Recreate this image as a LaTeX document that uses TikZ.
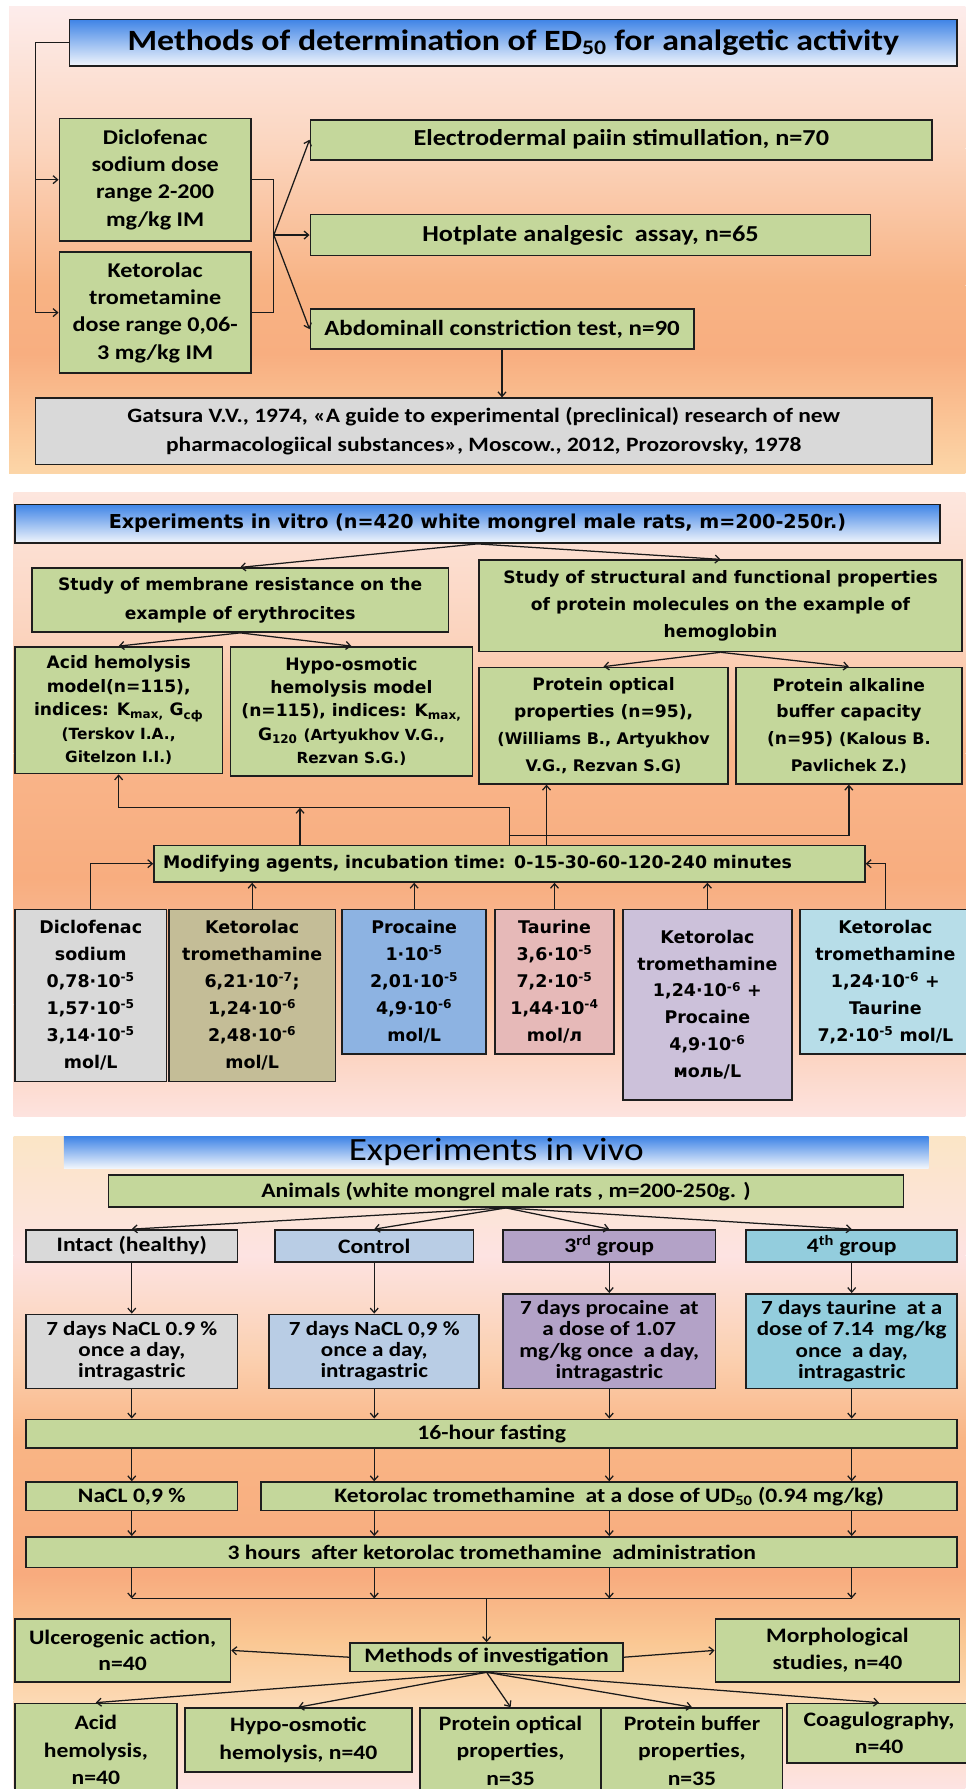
\documentclass[tikz,border=0pt]{standalone}
\usepackage{fontspec}
\usetikzlibrary{arrows.meta}
\newfontfamily\cbf[FakeStretch=1.15]{Carlito}
\newfontfamily\cbr[FakeStretch=1.15]{Carlito}
\newfontfamily\dvs{DejaVu Sans}
\newcommand\fA[2]{\cbf\bfseries\fontsize{#1}{#2}\selectfont}
\newcommand\fB[2]{\dvs\bfseries\fontsize{#1}{#2}\selectfont}
\newcommand\smref[2]{{\fontsize{#1}{#1}\selectfont #2}}
\definecolor{gfill}{HTML}{C4D79B}
\definecolor{grayfill}{HTML}{D9D9D9}
\definecolor{tanfill}{HTML}{C4BD97}
\definecolor{bluefill}{HTML}{8DB3E2}
\definecolor{pinkfill}{HTML}{E6B9B8}
\definecolor{lavfill}{HTML}{CCC1DA}
\definecolor{ltbluefill}{HTML}{B7DDE8}
\definecolor{ctrlfill}{HTML}{B9CDE5}
\definecolor{thirdfill}{HTML}{B3A2C7}
\definecolor{fourthfill}{HTML}{93CDDD}
\definecolor{bord}{HTML}{1E1E1E}
\definecolor{lin}{HTML}{1A1A1A}
\definecolor{tbA}{HTML}{3F84E6}
\definecolor{tbB}{HTML}{9CC2F2}
\definecolor{tbC}{HTML}{F2F6FC}
\definecolor{pa}{HTML}{FDECEB}
\definecolor{pb}{HTML}{FBD5BE}
\definecolor{pc}{HTML}{F8B384}
\definecolor{pd}{HTML}{F8AE80}
\definecolor{pe}{HTML}{FCD6A8}
\definecolor{qa}{HTML}{FDE6DE}
\definecolor{qb}{HTML}{FBD3BD}
\definecolor{qc}{HTML}{F9B58A}
\definecolor{qd}{HTML}{F8AD7F}
\definecolor{qe}{HTML}{FBC8AA}
\definecolor{qf}{HTML}{FDE3DF}
\definecolor{ra}{HTML}{FBE5C6}
\definecolor{rb}{HTML}{FDE3E2}
\definecolor{rc}{HTML}{FBD0B0}
\definecolor{rd}{HTML}{F9B585}
\definecolor{re}{HTML}{F8AB7E}
\definecolor{rf}{HTML}{FAC894}
\definecolor{rg}{HTML}{FCD9B4}
\definecolor{rh}{HTML}{FDE3E3}
\newcommand\placebox[7]{%
  \pgfmathsetmacro\pbw{#5-#3}%
  \pgfmathsetmacro\pbh{#6-#4}%
  \pgfmathsetmacro\pbx{(#3+#5)/2}%
  \pgfmathsetmacro\pby{(#4+#6)/2}%
  \node[#2, minimum width=\pbw pt, minimum height=\pbh pt] (#1) at (\pbx,\pby) {#7};%
}
\tikzset{
  box/.style={draw=bord, line width=1.4pt, inner sep=2pt, align=center, text=black},
  gbox/.style={box, fill=gfill},
  titlebox/.style={box, top color=tbA, middle color=tbB, bottom color=tbC},
  conn/.style={draw=lin, line width=1.1pt},
  arr/.style={conn, -{Straight Barb[length=4pt,width=7pt]}},
}
\begin{document}
\begin{tikzpicture}[x=1pt,y=-1pt]
\useasboundingbox (0,0) rectangle (846,1568);
\fill[white] (0,0) rectangle (846,1568);
% ---------- backgrounds
\shade[top color=pa,bottom color=pb] (8,6) rectangle (846,130.5);
\shade[top color=pb,bottom color=pc] (8,130) rectangle (846,250.5);
\shade[top color=pc,bottom color=pd] (8,250) rectangle (846,310.5);
\shade[top color=pd,bottom color=pe] (8,310) rectangle (846,415);
\shade[top color=qa,bottom color=qb] (12,432) rectangle (846,560.5);
\shade[top color=qb,bottom color=qc] (12,560) rectangle (846,660.5);
\shade[top color=qc,bottom color=qd] (12,660) rectangle (846,770.5);
\shade[top color=qd,bottom color=qe] (12,770) rectangle (846,880.5);
\shade[top color=qe,bottom color=qf] (12,880) rectangle (846,979);
\shade[top color=ra,bottom color=rb] (12,996) rectangle (846,1100.5);
\shade[top color=rb,bottom color=rc] (12,1100) rectangle (846,1190.5);
\shade[top color=rc,bottom color=rd] (12,1190) rectangle (846,1260.5);
\shade[top color=rd,bottom color=re] (12,1260) rectangle (846,1380.5);
\shade[top color=re,bottom color=rf] (12,1380) rectangle (846,1440.5);
\shade[top color=rf,bottom color=rg] (12,1440) rectangle (846,1490.5);
\shade[top color=rg,bottom color=rh] (12,1490) rectangle (846,1568);

% ================= PANEL 1
\placebox{t1}{titlebox, font=\fA{25.8}{28}}{61}{17}{839}{58}{Methods of determination of ED\textsubscript{50} for analgetic activity}
\placebox{d1}{gbox, font=\fA{18.4}{24}}{52}{104}{220}{211}{Diclofenac\\sodium dose\\range 2-200\\mg/kg IM}
\placebox{k1}{gbox, font=\fA{18.4}{24}}{52}{221}{220}{327}{Ketorolac\\trometamine\\dose range 0,06-\\3 mg/kg IM}
\placebox{e1}{gbox, font=\fA{20}{24}}{272}{105}{817}{140}{Electrodermal paiin stimullation, n=70}
\placebox{hp}{gbox, font=\fA{20}{24}}{272}{188}{763}{224}{Hotplate analgesic\ \ assay, n=65}
\placebox{ab}{gbox, font=\fA{19}{24}}{272}{271}{608}{306}{Abdominall constriction test, n=90}
\placebox{gt}{box, fill=grayfill, font=\fA{17.9}{25}}{31}{349}{817}{407}{Gatsura V.V., 1974, «A guide to experimental (preclinical) research of new\\pharmacologiical substances», Moscow., 2012, Prozorovsky, 1978}

\coordinate (lx) at (31,0);
\coordinate (bx) at (240,0);
\coordinate (fo) at (240,206);
\draw[arr] (t1.west) -- (t1.west -| lx) |- (k1.west);
\draw[arr] (d1.west -| lx) -- (d1.west);
\draw[conn] (d1.east) -- (d1.east -| bx) -- (k1.east -| bx) -- (k1.east);
\draw[arr] (fo) -- (e1.west);
\draw[arr] (fo) -- (hp.west);
\draw[arr] (fo) -- (ab.west);
\draw[arr] (ab.south) -- (ab.south |- gt.north);

% ================= PANEL 2
\placebox{t2}{titlebox, font=\fB{16.8}{20}}{13}{442}{824}{476}{Experiments in vitro (n=420 white mongrel male rats, m=200-250r.)}
\placebox{s1}{gbox, font=\fB{15}{25}}{28}{498}{393}{554}{Study of membrane resistance on the\\example of erythrocites}
\placebox{s2}{gbox, font=\fB{15}{23.4}}{420}{491}{843}{571}{Study of structural and functional properties\\of protein molecules on the example of\\hemoglobin}
\placebox{a2}{gbox, font=\fB{15}{20.5}}{13}{567}{195}{678}{Acid hemolysis\\model(n=115),\\indices: K\textsubscript{max,} G\textsubscript{сф}\\\smref{13.5}{(Terskov I.A.,}\\\smref{13.5}{Gitelzon I.I.)}}
\placebox{h2}{gbox, font=\fB{15}{20.5}}{202}{567}{414}{680}{Hypo-osmotic\\hemolysis model\\(n=115), indices: K\textsubscript{max,}\\G\textsubscript{120} \smref{13.4}{(Artyukhov V.G.,}\\\smref{13.4}{Rezvan S.G.)}}
\placebox{p2}{gbox, font=\fB{15}{23.4}}{420}{585}{638}{687}{Protein optical\\properties (n=95),\\\smref{14}{(Williams B., Artyukhov}\\\smref{14}{V.G., Rezvan S.G)}}
\placebox{k2}{gbox, font=\fB{15}{23.4}}{645}{585}{843}{687}{Protein alkaline\\buffer capacity\\(n=95) \smref{14}{(Kalous B.}\\\smref{14}{Pavlichek Z.)}}
\placebox{m2}{gbox, font=\fB{15.2}{20}, text width=607pt, inner xsep=8pt, align=left}{135}{741}{758}{773}{Modifying agents, incubation time: 0-15-30-60-120-240 minutes}
\placebox{bd}{box, fill=grayfill, font=\fB{15.3}{23.6}}{13}{797}{146}{948}{Diclofenac\\sodium\\0,78·10\textsuperscript{-5}\\1,57·10\textsuperscript{-5}\\3,14·10\textsuperscript{-5}\\mol/L}
\placebox{bk}{box, fill=tanfill, font=\fB{15.3}{23.6}}{148}{797}{294}{948}{Ketorolac\\tromethamine\\6,21·10\textsuperscript{-7};\\1,24·10\textsuperscript{-6}\\2,48·10\textsuperscript{-6}\\mol/L}
\placebox{bp}{box, fill=bluefill, font=\fB{15.3}{23.6}}{300}{797}{426}{924}{Procaine\\1·10\textsuperscript{-5}\\2,01·10\textsuperscript{-5}\\4,9·10\textsuperscript{-6}\\mol/L}
\placebox{bt}{box, fill=pinkfill, font=\fB{15.3}{23.6}}{434}{797}{538}{924}{Taurine\\3,6·10\textsuperscript{-5}\\7,2·10\textsuperscript{-5}\\1,44·10\textsuperscript{-4}\\mol/л}
\placebox{bkp}{box, fill=lavfill, font=\fB{15.3}{23.6}}{546}{797}{694}{964}{Ketorolac\\tromethamine\\1,24·10\textsuperscript{-6} +\\Procaine\\4,9·10\textsuperscript{-6}\\моль/L}
\placebox{bkt}{box, fill=ltbluefill, font=\fB{15.3}{23.6}}{701}{797}{851}{924}{Ketorolac\\tromethamine\\1,24·10\textsuperscript{-6} +\\Taurine\\7,2·10\textsuperscript{-5} mol/L}

\coordinate (y708) at (0,708);
\coordinate (y732) at (0,732);
\coordinate (hx) at (263,0);
\coordinate (px) at (479,0);
\draw[arr] (t2.south) -- (s1.north);
\draw[arr] (t2.south) -- (s2.north);
\draw[arr] (s1.south) -- (a2.north);
\draw[arr] (s1.south) -- (h2.north);
\draw[arr] (s2.south) -- (p2.north);
\draw[arr] (s2.south) -- (k2.north);
\draw[arr] (m2.north) -- (m2.north |- y708) -| (a2.south);
\draw[arr] (m2.north -| hx) -- (y708 -| hx);
\draw[arr] (m2.north |- y732) -| (k2.south);
\draw[arr] (m2.north -| px) -- (p2.south -| px);
\draw[arr] (bd.north) |- (m2.west);
\draw[arr] (bk.north) -- (bk.north |- m2.south);
\draw[arr] (bp.north) -- (bp.north |- m2.south);
\draw[arr] (bt.north) -- (bt.north |- m2.south);
\draw[arr] (bkp.north) -- (bkp.north |- m2.south);
\draw[arr] (bkt.north) |- (m2.east);

% ================= PANEL 3
\placebox{tv}{top color=tbA, middle color=tbB!80!white, bottom color=tbC, inner sep=0pt, font=\cbr\fontsize{28.4}{30}\selectfont}{56}{996}{814}{1024}{Experiments in vivo}
\placebox{an}{gbox, font=\fA{18}{20}}{95}{1030}{792}{1058}{Animals (white mongrel male rats , m=200-250g. )}
\placebox{gi}{box, fill=grayfill, font=\fA{18}{20}}{23}{1078}{208}{1106}{Intact (healthy)}
\placebox{gc}{box, fill=ctrlfill, font=\fA{18}{20}}{241}{1078}{415}{1106}{Control}
\placebox{g3}{box, fill=thirdfill, font=\fA{18}{20}}{441}{1078}{627}{1106}{3\textsuperscript{rd} group}
\placebox{g4}{box, fill=fourthfill, font=\fA{18}{20}}{654}{1078}{839}{1106}{4\textsuperscript{th} group}
\placebox{ti}{box, fill=grayfill, font=\fA{17.6}{18.5}}{23}{1152}{208}{1217}{7 days NaCL 0.9 \%\\once a day,\\intragastric}
\placebox{tc}{box, fill=ctrlfill, font=\fA{17.6}{18.5}}{236}{1152}{420}{1217}{7 days NaCL 0,9 \%\\once a day,\\intragastric}
\placebox{t3}{box, fill=thirdfill, font=\fA{17.6}{18.5}}{441}{1134}{627}{1217}{7 days procaine\ \ at\\a dose of 1.07\\mg/kg once\ \ a day,\\intragastric}
\placebox{t4}{box, fill=fourthfill, font=\fA{17.6}{18.5}}{654}{1134}{839}{1217}{7 days taurine\ \ at a\\dose of 7.14\ \ mg/kg\\once\ \ a day,\\intragastric}
\placebox{fa}{gbox, font=\fA{18}{20}}{23}{1244}{839}{1269}{16-hour fasting}
\placebox{n1}{gbox, font=\fA{18}{20}}{23}{1299}{208}{1324}{NaCL 0,9 \%}
\placebox{k3}{gbox, font=\fA{18}{20}}{229}{1299}{839}{1324}{Ketorolac tromethamine\ \ at a dose of UD\textsubscript{50} (0.94 mg/kg)}
\placebox{h3}{gbox, font=\fA{18}{20}}{23}{1347}{839}{1374}{3 hours\ \ after ketorolac tromethamine\ \ administration}
\placebox{mi}{gbox, font=\fA{18}{20}}{307}{1440}{546}{1465}{Methods of investigation}
\placebox{u}{gbox, font=\fA{18}{23.4}}{13}{1419}{202}{1474}{Ulcerogenic action,\\n=40}
\placebox{mo}{gbox, font=\fA{18}{23.4}}{627}{1419}{841}{1474}{Morphological\\studies, n=40}
\placebox{ah}{gbox, font=\fA{18}{24}}{13}{1493}{155}{1575}{Acid\\hemolysis,\\n=40}
\placebox{hy}{gbox, font=\fA{18}{24}}{162}{1497}{361}{1553}{Hypo-osmotic\\hemolysis, n=40}
\placebox{po}{gbox, font=\fA{18}{24}}{368}{1497}{527}{1572}{Protein optical\\properties,\\n=35}
\placebox{pbx}{gbox, font=\fA{18}{24}}{527}{1497}{686}{1572}{Protein buffer\\properties,\\n=35}
\placebox{co}{gbox, font=\fA{18}{24}}{690}{1493}{851}{1545}{Coagulography,\\n=40}

\coordinate (y1401) at (0,1401);
\draw[arr] (an.south) -- (gi.north);
\draw[arr] (an.south) -- (gc.north);
\draw[arr] (an.south) -- (g3.north);
\draw[arr] (an.south) -- (g4.north);
\foreach \g/\t in {gi/ti, gc/tc, g3/t3, g4/t4}{
  \draw[arr] (\g.south) -- (\g.south |- \t.north);
  \draw[arr] (\g.south |- \t.south) -- (\g.south |- fa.north);
}
\draw[arr] (gi.south |- fa.south) -- (gi.south |- n1.north);
\draw[arr] (gc.south |- fa.south) -- (gc.south |- k3.north);
\draw[arr] (g3.south |- fa.south) -- (g3.south |- k3.north);
\draw[arr] (g4.south |- fa.south) -- (g4.south |- k3.north);
\draw[arr] (gi.south |- n1.south) -- (gi.south |- h3.north);
\draw[arr] (gc.south |- k3.south) -- (gc.south |- h3.north);
\draw[arr] (g3.south |- k3.south) -- (g3.south |- h3.north);
\draw[arr] (g4.south |- k3.south) -- (g4.south |- h3.north);
\foreach \g in {gi,gc,g3,g4}{
  \draw[arr] (\g.south |- h3.south) -- (\g.south |- y1401);
}
\draw[conn] (gi.south |- y1401) -- (g4.south |- y1401);
\draw[arr] (mi.north |- y1401) -- (mi.north);
\draw[arr] (mi.west) -- (u.east);
\draw[arr] (mi.east) -- (mo.west);
\draw[arr] (mi.south) -- (ah.north);
\draw[arr] (mi.south) -- (hy.north);
\draw[arr] (mi.south) -- (po.north);
\draw[arr] (mi.south) -- (pbx.north);
\draw[arr] (mi.south) -- (co.north);
\end{tikzpicture}
\end{document}
